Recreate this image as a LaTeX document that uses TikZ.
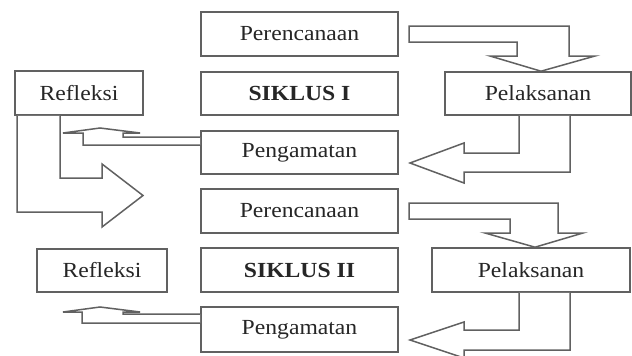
\documentclass[tikz,border=0pt]{standalone}
\usepackage{fontspec}
\setmainfont{Liberation Serif}
\newcommand{\lbl}[1]{\scalebox{1.1}[1]{#1}}
\begin{document}
\begin{tikzpicture}[x=1pt,y=-1pt,
  box/.style={draw=black!62,line width=1.6pt,fill=white,inner sep=0pt,
    font=\fontsize{21.5}{25}\selectfont,text=black!85},
  midbox/.style={box,minimum width=197pt,minimum height=44pt},
  blockarrow/.style={draw=black!62,line width=1.5pt,fill=white,line join=miter}]
\useasboundingbox (0,0) rectangle (632,356);
% cycle I
\node[midbox] (per1) at (299.5,34) {\lbl{Perencanaan}};
\node[midbox,minimum height=43pt] (sik1) at (299.5,93.5) {\lbl{\textbf{SIKLUS I}}};
\node[midbox,minimum height=43pt] (pen1) at (299.5,152.5) {\lbl{Pengamatan}};
\node[box,minimum width=128pt,minimum height=44pt] (ref1) at (79,93) {\lbl{Refleksi}};
\node[box,minimum width=186pt,minimum height=43pt] (pel1) at (538,93.5) {\lbl{Pelaksanan}};
% cycle II
\node[midbox] (per2) at (299.5,211) {\lbl{Perencanaan}};
\node[midbox] (sik2) at (299.5,270) {\lbl{\textbf{SIKLUS II}}};
\node[midbox,minimum height=45pt] (pen2) at (299.5,329.5) {\lbl{Pengamatan}};
\node[box,minimum width=130pt,minimum height=43pt] (ref2) at (102,270.5) {\lbl{Refleksi}};
\node[box,minimum width=198pt,minimum height=44pt] (pel2) at (531,270) {\lbl{Pelaksanan}};
% arrows cycle I
\draw[blockarrow] (409,26) -- (569,26) -- (569,56) -- (595,56) -- (541,0 |- pel1.north)
  -- (490,56) -- (517,56) -- (517,42) -- (409,42) -- cycle;
\draw[blockarrow] (519,0 |- pel1.south) -- (519,153) -- (464,153) -- (464,143)
  -- (410,163) -- (464,183) -- (464,172) -- (570,172) -- (570,0 |- pel1.south);
\draw[blockarrow] (pen1.west |- 0,137) -- (123,137) -- (123,133) -- (140,133) -- (100,128)
  -- (63,133) -- (83,133) -- (83,145) -- (pen1.west |- 0,145);
\draw[blockarrow] (17,0 |- ref1.south) -- (17,212) -- (102,212) -- (102,227) -- (143,195.5)
  -- (102,164) -- (102,178) -- (60,178) -- (60,0 |- ref1.south);
% arrows cycle II
\draw[blockarrow] (409,203) -- (558,203) -- (558,233) -- (583,233) -- (535,0 |- pel2.north)
  -- (485,233) -- (510,233) -- (510,219) -- (409,219) -- cycle;
\draw[blockarrow] (519,0 |- pel2.south) -- (519,330) -- (464,330) -- (464,322)
  -- (410,340) -- (464,358) -- (464,350) -- (570,350) -- (570,0 |- pel2.south);
\draw[blockarrow] (pen2.west |- 0,314) -- (123,314) -- (123,312) -- (140,312) -- (100,307)
  -- (63,312) -- (82,312) -- (82,323) -- (pen2.west |- 0,323);
\end{tikzpicture}
\end{document}
